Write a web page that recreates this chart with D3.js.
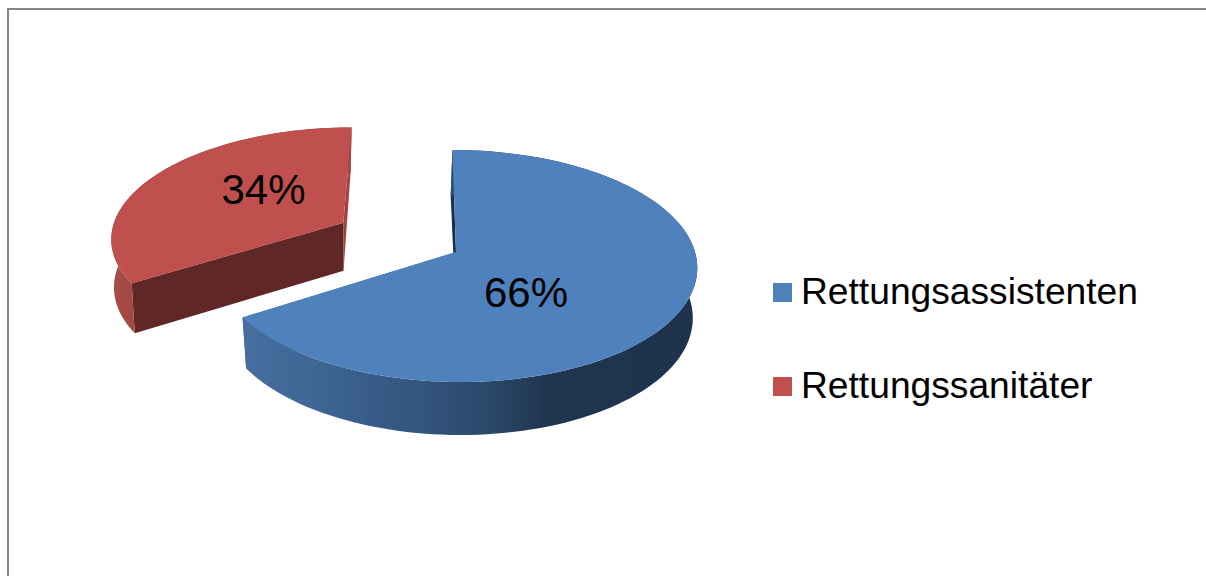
<!DOCTYPE html>
<html>
<head>
<meta charset="utf-8">
<script src="https://cdn.jsdelivr.net/npm/d3@7"></script>
<style>
	body { margin: 0; background: #fff; }
	svg { display: block; }
	text { font-family: "Liberation Sans", Arial, sans-serif; fill: #000; }
</style>
</head>
<body>
<div id="pieChart"></div>
<script>
const categories = ["Rettungsassistenten", "Rettungssanitäter"];
const shares = [66, 34];
const shareLabels = ["66%", "34%"];

const width = 1206;
const height = 576;

const topColor = ["#4f81bd", "#c0504d"];
const startFaceColor = ["#1c2f48", "#5f2725"];
const endFaceColor = ["#3a6190", "#a3413f"];

// the pie lies on a tilted disc: far side is squeezed, near side is stretched
const centerX = 456;
const radiusX = 239;
const apexY = 252;
const stretchY = 83.9;
const tilt = -0.1207;
const skew = 4;
const explode = [0, 0.55];
const rimScale = [1, 0.99];
const dropScale = [0.983, 0.99];

function project(u, v) {
	const w = 1 + tilt * v;
	return [centerX + (radiusX * u + skew * v) / w, (stretchY * v + apexY) / w];
}

// same point on the lower rim of the disc
function drop(p, i) {
	const lean = Math.max(0, 300 - p[1]) * 0.012;
	return [centerX + (p[0] - centerX) * dropScale[i] - lean, p[1] + 41 + p[1] * 0.0314];
}

const slices = d3.pie().sort(null)(shares);

const path = d3.line();

const svg = d3
	.select("div#pieChart")
	.append("svg")
	.attr("width", width)
	.attr("height", height);

const blueWall = svg
	.append("defs")
	.append("linearGradient")
	.attr("id", "wall0")
	.attr("gradientUnits", "userSpaceOnUse")
	.attr("x1", 245)
	.attr("x2", 697)
	.attr("y1", 0)
	.attr("y2", 0);
[[0, "#466f9f"], [0.15, "#3f6694"], [0.38, "#33557f"], [0.55, "#2a4768"], [0.66, "#203650"], [1, "#1e324d"]].forEach((s) => {
	blueWall.append("stop").attr("offset", s[0]).attr("stop-color", s[1]);
});

const redWall = svg
	.select("defs")
	.append("linearGradient")
	.attr("id", "wall1")
	.attr("gradientUnits", "userSpaceOnUse")
	.attr("x1", 108)
	.attr("x2", 138)
	.attr("y1", 0)
	.attr("y2", 0);
[[0, "#a94d4a"], [1, "#a04643"]].forEach((s) => {
	redWall.append("stop").attr("offset", s[0]).attr("stop-color", s[1]);
});

// frame, cut off by the right and bottom edge of the picture
svg
	.append("path")
	.attr("d", `M8,${height}V9H${width}`)
	.attr("fill", "none")
	.attr("stroke", "#868686")
	.attr("stroke-width", 2);

// the exploded slice sits behind, so it is painted first
d3.range(slices.length)
	.reverse()
	.forEach((i) => {
		const s = slices[i];
		const mid = (s.startAngle + s.endAngle) / 2;
		const offU = Math.sin(mid) * explode[i];
		const offV = -Math.cos(mid) * explode[i];
		const point = (a) => project(Math.sin(a) * rimScale[i] + offU, -Math.cos(a) * rimScale[i] + offV);
		const lower = (p) => drop(p, i);

		const rim = d3.range(0, 121).map((k) => point(s.startAngle + ((s.endAngle - s.startAngle) * k) / 120));
		const apex = project(offU, offV);
		const first = rim[0];
		const last = rim[rim.length - 1];

		const g = svg.append("g").attr("class", "slice");

		g.append("path")
			.attr("d", path([apex, last, lower(last), lower(apex)]) + "Z")
			.attr("fill", endFaceColor[i]);
		g.append("path")
			.attr("d", path([apex, first, lower(first), lower(apex)]) + "Z")
			.attr("fill", startFaceColor[i]);
		g.append("path")
			.attr("d", path(rim.concat(rim.map(lower).reverse())) + "Z")
			.attr("fill", `url(#wall${i})`);
		g.append("path")
			.attr("d", path([apex].concat(rim)) + "Z")
			.attr("fill", topColor[i]);
	});

const labelX = [526, 263.5];
const labelY = [307, 204];

svg
	.selectAll("text.share")
	.data(shareLabels)
	.join("text")
	.attr("class", "share")
	.attr("x", (d, i) => labelX[i])
	.attr("y", (d, i) => labelY[i])
	.attr("text-anchor", "middle")
	.attr("font-size", 42)
	.text((d) => d);

const legendY = d3.scalePoint().domain(categories).range([283, 377]);

const legend = svg
	.selectAll("g.legend")
	.data(categories)
	.join("g")
	.attr("class", "legend")
	.attr("transform", (d) => `translate(773, ${legendY(d)})`);

legend
	.append("rect")
	.attr("width", 19)
	.attr("height", 19)
	.attr("fill", (d, i) => topColor[i]);

legend
	.append("text")
	.attr("x", 28)
	.attr("y", 21)
	.attr("font-size", 37.2)
	.text((d) => d);
</script>
</body>
</html>
